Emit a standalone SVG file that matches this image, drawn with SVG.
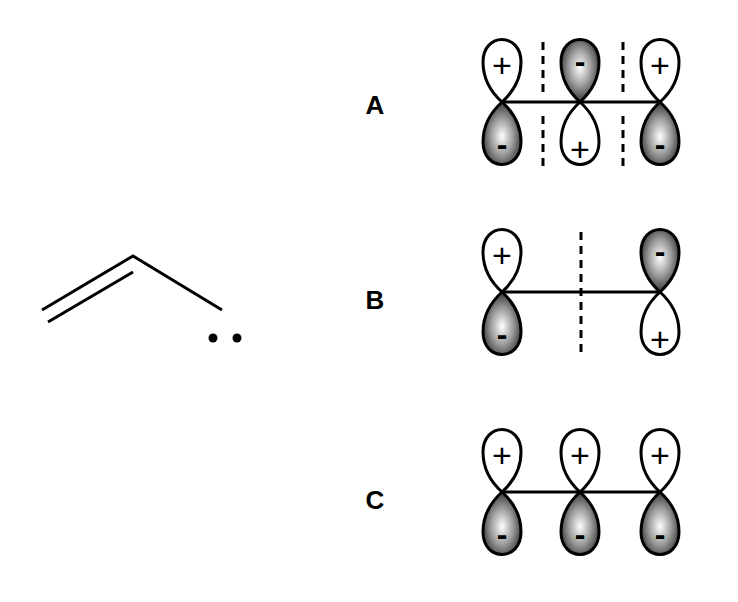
<svg xmlns="http://www.w3.org/2000/svg" xmlns:xlink="http://www.w3.org/1999/xlink" width="738" height="602" viewBox="0 0 738 602">
<defs>
<radialGradient id="sh" cx="0.5" cy="0.45" r="0.6"><stop offset="0" stop-color="#fff"/><stop offset="0.5" stop-color="#999"/><stop offset="1" stop-color="#222"/></radialGradient>
<path id="lobe" d="M0,0 C-10,-9 -19,-22 -19,-40 C-19,-70 19,-70 19,-40 C19,-22 10,-9 0,0 Z"/>
<style>
.w{fill:#fff;stroke:#000;stroke-width:3}
.s{fill:url(#sh);stroke:#000;stroke-width:3}
.b{stroke:#000;stroke-width:3;fill:none}
.d{stroke:#000;stroke-width:3;stroke-dasharray:8,6}
.p{font-family:"Liberation Sans",sans-serif;font-size:34px;text-anchor:middle}
.m{font-family:"Liberation Sans",sans-serif;font-size:32px;font-weight:bold;text-anchor:middle}
.l{font-family:"Liberation Sans",sans-serif;font-size:26px;font-weight:bold;text-anchor:middle}
</style>
</defs>
<g id="molecule">
<polyline class="b" points="42,310 133,256 222,310"/>
<line class="b" x1="48" y1="322" x2="133" y2="272"/>
<circle cx="213" cy="338" r="4.5"/><circle cx="237" cy="338" r="4.5"/>
</g>
<g id="labels">
<text class="l" x="375" y="114">A</text>
<text class="l" x="375" y="309">B</text>
<text class="l" x="375" y="509">C</text>
</g>
<g id="connectors">
<line class="b" x1="502" y1="102" x2="660" y2="102"/>
<line class="b" x1="502" y1="292" x2="660" y2="292"/>
<line class="b" x1="502" y1="492" x2="660" y2="492"/>
<line class="d" x1="543" y1="42" x2="543" y2="95"/>
<line class="d" x1="543" y1="116" x2="543" y2="168"/>
<line class="d" x1="623" y1="42" x2="623" y2="95"/>
<line class="d" x1="623" y1="116" x2="623" y2="168"/>
<line class="d" x1="581" y1="232" x2="581" y2="356"/>
</g>
<g id="A">
<use href="#lobe" class="w" transform="translate(502,102)"/>
<use href="#lobe" class="s" transform="translate(502,102) scale(1,-1)"/>
<use href="#lobe" class="s" transform="translate(580,102)"/>
<use href="#lobe" class="w" transform="translate(580,102) scale(1,-1)"/>
<use href="#lobe" class="w" transform="translate(660,102)"/>
<use href="#lobe" class="s" transform="translate(660,102) scale(1,-1)"/>
<text class="p" x="502" y="77">+</text><text class="m" x="502" y="155">-</text>
<text class="m" x="580" y="72">-</text><text class="p" x="580" y="161">+</text>
<text class="p" x="660" y="77">+</text><text class="m" x="660" y="155">-</text>
</g>
<g id="B">
<use href="#lobe" class="w" transform="translate(502,292)"/>
<use href="#lobe" class="s" transform="translate(502,292) scale(1,-1)"/>
<use href="#lobe" class="s" transform="translate(660,292)"/>
<use href="#lobe" class="w" transform="translate(660,292) scale(1,-1)"/>
<text class="p" x="502" y="267">+</text><text class="m" x="502" y="345">-</text>
<text class="m" x="660" y="262">-</text><text class="p" x="660" y="351">+</text>
</g>
<g id="C">
<use href="#lobe" class="w" transform="translate(502,492)"/>
<use href="#lobe" class="s" transform="translate(502,492) scale(1,-1)"/>
<use href="#lobe" class="w" transform="translate(580,492)"/>
<use href="#lobe" class="s" transform="translate(580,492) scale(1,-1)"/>
<use href="#lobe" class="w" transform="translate(660,492)"/>
<use href="#lobe" class="s" transform="translate(660,492) scale(1,-1)"/>
<text class="p" x="502" y="467">+</text><text class="m" x="502" y="545">-</text>
<text class="p" x="580" y="467">+</text><text class="m" x="580" y="545">-</text>
<text class="p" x="660" y="467">+</text><text class="m" x="660" y="545">-</text>
</g>
</svg>
